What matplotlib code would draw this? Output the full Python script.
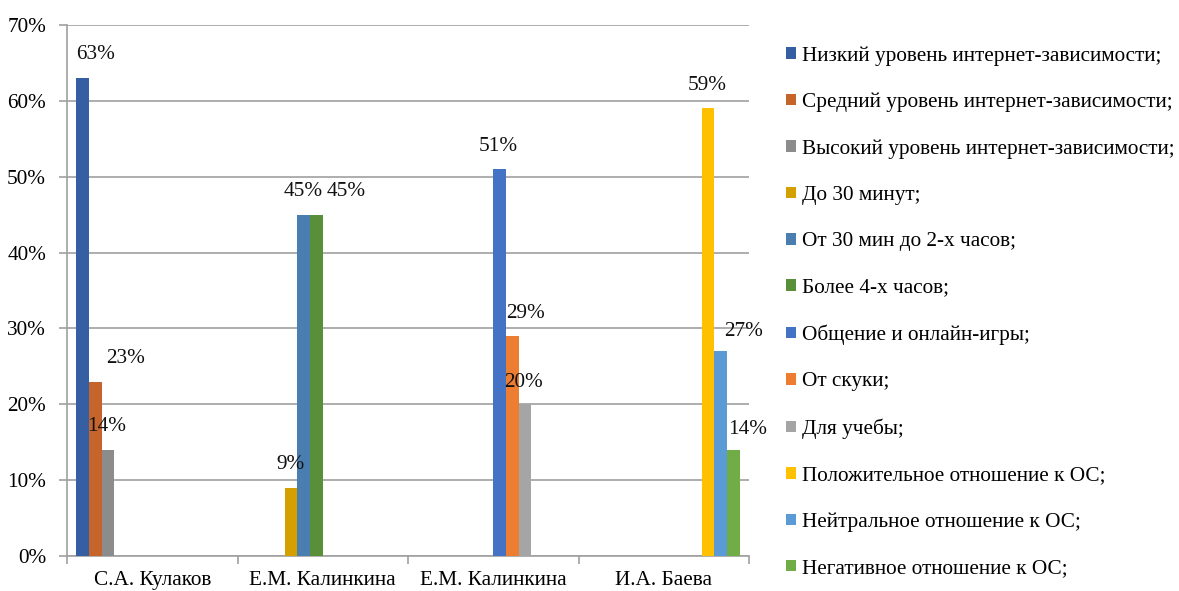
import numpy as np
import matplotlib
matplotlib.use("Agg")
import matplotlib.pyplot as plt
from matplotlib.ticker import FuncFormatter, MultipleLocator

plt.rcParams["font.family"] = ["Liberation Serif", "DejaVu Serif"]

AUTHORS = ["С.А. Кулаков", "Е.М. Калинкина", "Е.М. Калинкина", "И.А. Баева"]

SERIES = [
    "Низкий уровень интернет-зависимости;",
    "Средний уровень интернет-зависимости;",
    "Высокий уровень интернет-зависимости;",
    "До 30 минут;",
    "От 30 мин до 2-х часов;",
    "Более 4-х часов;",
    "Общение и онлайн-игры;",
    "От скуки;",
    "Для учебы;",
    "Положительное отношение к ОС;",
    "Нейтральное отношение к ОС;",
    "Негативное отношение к ОС;",
]

# one value per series, each series only appears in one author group
GROUP_OF_SERIES = [0, 0, 0, 1, 1, 1, 2, 2, 2, 3, 3, 3]
VALUES = [63, 23, 14, 9, 45, 45, 51, 29, 20, 59, 27, 14]

COLORS = [
    "#365FA3", "#C5652B", "#8C8C8C", "#D4A000", "#4A7EB0", "#5A8F3A",
    "#4472C4", "#ED7D31", "#A5A5A5", "#FFC000", "#5B9BD5", "#70AD47",
]

# label nudges in pixels (dx, dy above bar top), as placed in the original
LABEL_OFFSETS = [
    (13, 24), (30, 23), (-1, 23), (-1, 23), (-1, 23), (30, 23),
    (-1, 23), (13, 23), (-1, 22), (-1, 23), (23, 20), (14, 20),
]

n_series = len(SERIES)
n_groups = len(AUTHORS)
w = 1.0 / (n_series + 1.5)   # Excel-like 150% gap width

fig = plt.figure(figsize=(11.79, 5.91), dpi=100)
ax = fig.add_axes([67 / 1179, 35 / 591, 682 / 1179, 531 / 591])

grid_c = "#A0A0A0"
fs = 15.3

for k in range(n_series):
    heights = np.zeros(n_groups)
    heights[GROUP_OF_SERIES[k]] = VALUES[k]
    x = np.arange(n_groups) + 0.75 * w + (k + 0.5) * w
    ax.bar(x, heights, width=w, color=COLORS[k], label=SERIES[k], zorder=3)
    g = GROUP_OF_SERIES[k]
    dx, dy = LABEL_OFFSETS[k]
    ax.annotate(f"{VALUES[k]}%", (x[g], VALUES[k]), xytext=(dx, dy),
                textcoords="offset pixels", ha="center", va="center",
                fontsize=fs, color="#111111", zorder=4)

ax.set_xlim(0, n_groups)
ax.set_ylim(0, 70)
ax.yaxis.set_major_locator(MultipleLocator(10))
ax.yaxis.set_major_formatter(FuncFormatter(lambda v, p: f"{v:.0f}%"))
ax.grid(axis="y", color=grid_c, lw=1.2, zorder=0)

ax.set_xticks(np.arange(n_groups + 1))
ax.set_xticklabels([])
ax.set_xticks(np.arange(n_groups) + 0.5, minor=True)
ax.set_xticklabels(AUTHORS, minor=True, fontsize=fs)
ax.tick_params(axis="x", which="major", length=6, color=grid_c, width=1.2)
ax.tick_params(axis="x", which="minor", length=0, pad=11)
ax.tick_params(axis="y", length=6, color=grid_c, width=1.2, labelsize=fs, pad=9)

for s in ["top", "right"]:
    ax.spines[s].set_visible(False)
for s in ["left", "bottom"]:
    ax.spines[s].set_color(grid_c)
    ax.spines[s].set_linewidth(1.2)

fig.legend(loc="upper left", bbox_to_anchor=(786 / 1179, 1 - 46 / 591),
           frameon=False, fontsize=fs, handlelength=0.47, handleheight=0.47,
           handletextpad=0.3, labelspacing=1.28, borderpad=0, borderaxespad=0)

fig.savefig("out.png", dpi=100)
